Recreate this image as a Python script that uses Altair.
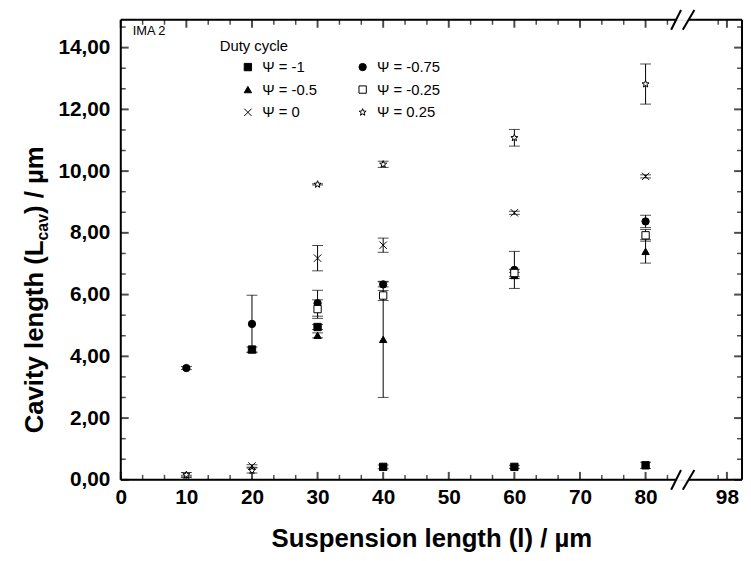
import altair as alt
import pandas as pd

# ---------------- data ----------------
SERIES = ["Ψ = -1", "Ψ = -0.75", "Ψ = -0.5", "Ψ = -0.25", "Ψ = 0", "Ψ = 0.25"]

len_m100 = [20, 30, 40, 60, 80]
cav_m100 = [4.22, 4.95, 0.42, 0.42, 0.47]
err_m100 = [0.08, 0.08, 0.06, 0.05, 0.10]

len_m075 = [10, 20, 30, 40, 60, 80]
cav_m075 = [3.62, 5.05, 5.72, 6.33, 6.80, 8.37]
err_m075 = [0.05, 0.93, 0.42, 0.08, 0.60, 0.20]

len_m050 = [30, 40, 60, 80]
cav_m050 = [4.68, 4.55, 6.62, 7.40]
err_m050 = [0.08, 1.88, 0.10, 0.38]

len_m025 = [30, 40, 60, 80]
cav_m025 = [5.53, 5.97, 6.70, 7.92]
err_m025 = [0.30, 0.16, 0.12, 0.19]

len_p000 = [10, 20, 30, 40, 60, 80]
cav_p000 = [0.12, 0.45, 7.18, 7.60, 8.65, 9.83]
err_p000 = [0.03, 0.04, 0.41, 0.23, 0.05, 0.05]

len_p025 = [10, 20, 30, 40, 60, 80]
cav_p025 = [0.16, 0.30, 9.57, 10.22, 11.08, 12.82]
err_p025 = [0.08, 0.08, 0.02, 0.10, 0.27, 0.65]

X_TICKS = [0, 10, 20, 30, 40, 50, 60, 70, 80, 98]
Y_TICKS = [0, 2, 4, 6, 8, 10, 12, 14]

# ---------------- broken x axis ----------------
BREAK_AT = 85.7      # where the axis is broken (display units)
BREAK_SHIFT = 5.6    # values past the break are shifted left by this
X_END = 94.7
Y_END = 14.9


def pos(v):
    return v if v <= BREAK_AT else v - BREAK_SHIFT


XPOS_MAJOR = [pos(v) for v in X_TICKS]
XPOS_MINOR = [pos(round(m * 10 / 3, 3)) for m in range(1, 30) if m % 3 != 0
              and (m * 10 / 3 < BREAK_AT - 1 or m * 10 / 3 > 98 - 4)
              and pos(m * 10 / 3) < X_END]
Y_MINOR = [round(m * 2 / 3, 3) for m in range(1, 23) if m % 3 != 0]

rows = []
for name, xs, ys, es in zip(
        SERIES,
        [len_m100, len_m075, len_m050, len_m025, len_p000, len_p025],
        [cav_m100, cav_m075, cav_m050, cav_m025, cav_p000, cav_p025],
        [err_m100, err_m075, err_m050, err_m025, err_p000, err_p025]):
    for x, y, e in zip(xs, ys, es):
        rows.append({"series": name, "x": x, "y": y, "lo": y - e, "hi": y + e})
df = pd.DataFrame(rows)

W, H = 628, 465
FONT = "Liberation Sans"
xscale = alt.Scale(domain=[0, X_END], nice=False, zero=False)
yscale = alt.Scale(domain=[0, Y_END], nice=False, zero=False)

STAR = ("M0,-1L0.247,-0.34L0.951,-0.309L0.399,0.13L0.588,0.809L0,0.42"
        "L-0.588,0.809L-0.399,0.13L-0.951,-0.309L-0.247,-0.34Z")
XMARK = "M-1,-1L1,1M-1,1L1,-1"
SHAPES = ["square", "circle", "triangle-up", "square", XMARK, STAR]
FILLS = ["black", "black", "black", "white", "white", "white"]
STROKES = ["black"] * 6

legend = alt.Legend(
    title="Duty cycle", orient="none", legendX=100, legendY=20, columns=2,
    direction="horizontal",
    titleFont=FONT, titleFontSize=15, titleFontWeight="normal", titleColor="black",
    titlePadding=5, labelFont=FONT, labelFontSize=15, labelColor="black",
    labelOffset=7, symbolSize=55, symbolStrokeColor="black", symbolStrokeWidth=1,
    symbolOffset=21, rowPadding=7, columnPadding=17, padding=0, labelLimit=200,
)

base = alt.Chart(df)
xq = alt.X("x:Q", scale=xscale, axis=None)

errbars = base.mark_rule(color="black", strokeWidth=1).encode(
    x=xq, y=alt.Y("lo:Q", scale=yscale, axis=None), y2="hi:Q")
cap_lo = base.mark_tick(orient="horizontal", size=11, thickness=1, color="black").encode(
    x=xq, y=alt.Y("lo:Q", scale=yscale, axis=None))
cap_hi = base.mark_tick(orient="horizontal", size=11, thickness=1, color="black").encode(
    x=xq, y=alt.Y("hi:Q", scale=yscale, axis=None))

LABEL_FS = 21
points = base.mark_point(strokeWidth=1, opacity=1, fillOpacity=1, strokeOpacity=1, size=55).encode(
    x=alt.X("x:Q", scale=xscale, axis=alt.Axis(
        values=XPOS_MAJOR,
        labelExpr=f"datum.value > {BREAK_AT} ? format(datum.value + {BREAK_SHIFT}, '.0f') : format(datum.value, '.0f')",
        ticks=False, domain=False, grid=False,
        labelFont=FONT, labelFontSize=LABEL_FS, labelFontWeight="bold", labelColor="black",
        labelPadding=7, labelOverlap=False, labelBound=False, labelFlush=False,
        title="Suspension length (l) / µm", titleFont=FONT, titleFontSize=26,
        titleFontWeight="bold", titleColor="black", titlePadding=18)),
    y=alt.Y("y:Q", scale=yscale, title=None, axis=alt.Axis(
        values=Y_TICKS,
        labelExpr="replace(format(datum.value, '.2f'), '.', ',')",
        ticks=False, domain=False, grid=False,
        labelFont=FONT, labelFontSize=LABEL_FS, labelFontWeight="bold", labelColor="black",
        labelPadding=11, labelOverlap=False, labelBound=False, labelFlush=False)),
    shape=alt.Shape("series:N", scale=alt.Scale(domain=SERIES, range=SHAPES), legend=legend),
    fill=alt.Fill("series:N", scale=alt.Scale(domain=SERIES, range=FILLS), legend=legend),
    stroke=alt.Stroke("series:N", scale=alt.Scale(domain=SERIES, range=STROKES), legend=legend),
)


def xticks(values, at_y, offset, size, width):
    d = pd.DataFrame({"v": values, "at": [at_y] * len(values)})
    return alt.Chart(d).mark_tick(
        orient="vertical", size=size, thickness=width, color="black", yOffset=offset
    ).encode(x=alt.X("v:Q", scale=xscale, axis=None), y=alt.Y("at:Q", scale=yscale, axis=None))


def yticks(values, at_x, offset, size, width):
    d = pd.DataFrame({"v": values, "at": [at_x] * len(values)})
    return alt.Chart(d).mark_tick(
        orient="horizontal", size=size, thickness=width, color="black", xOffset=offset
    ).encode(y=alt.Y("v:Q", scale=yscale, axis=None), x=alt.X("at:Q", scale=xscale, axis=None))


tick_layers = [
    xticks(XPOS_MAJOR, 0, -4, 8, 2), xticks(XPOS_MINOR, 0, -2.5, 5, 1.5),
    xticks(XPOS_MAJOR, Y_END, 4, 8, 2), xticks(XPOS_MINOR, Y_END, 2.5, 5, 1.5),
    yticks(Y_TICKS, 0, 4, 8, 2), yticks(Y_MINOR, 0, 2.5, 5, 1.5),
    yticks(Y_TICKS, X_END, -4, 8, 2), yticks(Y_MINOR, X_END, -2.5, 5, 1.5),
]

GAP_L, GAP_R = 84.65, 86.55
seg_x1 = [0, X_END, 0, GAP_R, 0, GAP_R, 83.9, 85.67, 83.9, 85.67]
seg_x2 = [0, X_END, GAP_L, X_END, GAP_L, X_END, 85.4, 87.44, 85.4, 87.44]
seg_y1 = [0, 0, 0, 0, Y_END, Y_END, -0.32, -0.32, Y_END - 0.32, Y_END - 0.32]
seg_y2 = [Y_END, Y_END, 0, 0, Y_END, Y_END, 0.32, 0.32, Y_END + 0.32, Y_END + 0.32]
frame = alt.Chart(pd.DataFrame({"x1": seg_x1, "x2": seg_x2, "y1": seg_y1, "y2": seg_y2})).mark_rule(
    color="black", strokeWidth=2
).encode(
    x=alt.X("x1:Q", scale=xscale, axis=None), x2="x2:Q",
    y=alt.Y("y1:Q", scale=yscale, axis=None), y2="y2:Q",
)

one = pd.DataFrame({"k": [0]})

ima = alt.Chart(one).mark_text(
    text="IMA 2", font=FONT, fontSize=13, align="left", baseline="middle", color="black"
).encode(x=alt.value(12), y=alt.value(11))

YT_X, YT_Y = -87, 418
YT_FS, YT_SUB = 26, 16
ytitle = [
    alt.Chart(one).mark_text(text="Cavity length (L", font=FONT, fontSize=YT_FS, fontWeight="bold",
                             angle=270, align="left", baseline="middle", color="black")
    .encode(x=alt.value(YT_X), y=alt.value(YT_Y)),
    alt.Chart(one).mark_text(text="cav", font=FONT, fontSize=YT_SUB, fontWeight="bold",
                             angle=270, align="left", baseline="middle", color="black",
                             dx=7.5 * YT_FS, dy=8)
    .encode(x=alt.value(YT_X), y=alt.value(YT_Y)),
    alt.Chart(one).mark_text(text=") / µm", font=FONT, fontSize=YT_FS, fontWeight="bold",
                             angle=270, align="left", baseline="middle", color="black",
                             dx=7.5 * YT_FS + 1.67 * YT_SUB)
    .encode(x=alt.value(YT_X), y=alt.value(YT_Y)),
]

chart = alt.layer(
    frame, *tick_layers, errbars, cap_lo, cap_hi, points, ima, *ytitle
).resolve_axis(x="independent", y="independent").properties(
    width=W, height=H,
    autosize=alt.AutoSizeParams(type="none"),
    padding={"left": 114, "top": 9, "right": 1, "bottom": 71},
).configure_view(strokeWidth=0).configure(background="white")

chart.save("out.html", embed_options={"renderer": "svg", "actions": False})
